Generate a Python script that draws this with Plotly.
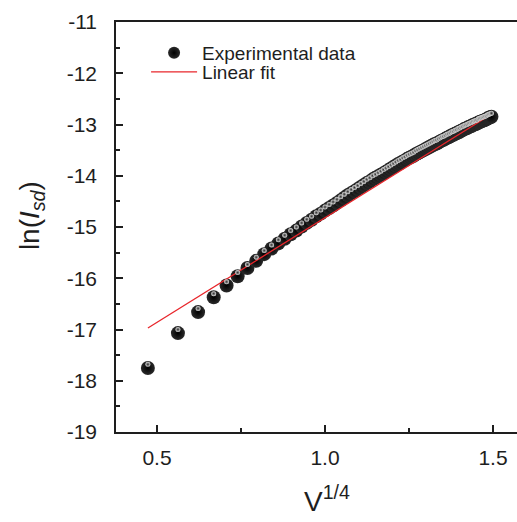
import plotly.graph_objects as go

# Applied voltage V (V); the x axis is V^(1/4)
V = [0.05, 0.10, 0.15, 0.20, 0.25, 0.30, 0.35, 0.40, 0.45, 0.50,
     0.55, 0.60, 0.65, 0.70, 0.75, 0.80, 0.85, 0.90, 0.95, 1.00,
     1.05, 1.10, 1.15, 1.20, 1.25, 1.30, 1.35, 1.40, 1.45, 1.50,
     1.55, 1.60, 1.65, 1.70, 1.75, 1.80, 1.85, 1.90, 1.95, 2.00,
     2.05, 2.10, 2.15, 2.20, 2.25, 2.30, 2.35, 2.40, 2.45, 2.50,
     2.55, 2.60, 2.65, 2.70, 2.75, 2.80, 2.85, 2.90, 2.95, 3.00,
     3.05, 3.10, 3.15, 3.20, 3.25, 3.30, 3.35, 3.40, 3.45, 3.50,
     3.55, 3.60, 3.65, 3.70, 3.75, 3.80, 3.85, 3.90, 3.95, 4.00,
     4.05, 4.10, 4.15, 4.20, 4.25, 4.30, 4.35, 4.40, 4.45, 4.50,
     4.55, 4.60, 4.65, 4.70, 4.75, 4.80, 4.85, 4.90, 4.95, 5.00]

ln_Isd = [-17.75, -17.07, -16.66, -16.37, -16.14, -15.96, -15.80, -15.66, -15.53, -15.42,
          -15.32, -15.23, -15.14, -15.07, -14.99, -14.92, -14.86, -14.79, -14.74, -14.68,
          -14.63, -14.58, -14.53, -14.48, -14.43, -14.38, -14.34, -14.30, -14.26, -14.22,
          -14.18, -14.14, -14.11, -14.07, -14.04, -14.01, -13.98, -13.95, -13.92, -13.89,
          -13.86, -13.83, -13.80, -13.77, -13.75, -13.72, -13.70, -13.67, -13.65, -13.63,
          -13.61, -13.58, -13.56, -13.54, -13.52, -13.50, -13.48, -13.46, -13.44, -13.42,
          -13.40, -13.38, -13.37, -13.35, -13.33, -13.31, -13.30, -13.28, -13.26, -13.25,
          -13.23, -13.21, -13.20, -13.18, -13.17, -13.15, -13.14, -13.12, -13.11, -13.09,
          -13.08, -13.07, -13.05, -13.04, -13.03, -13.01, -13.00, -12.99, -12.98, -12.96,
          -12.95, -12.94, -12.93, -12.92, -12.91, -12.90, -12.88, -12.87, -12.86, -12.85]

fit_x = [0.473, 1.495]
fit_y = [-16.97, -12.80]

x_tickvals = [0.5, 1.0, 1.5]
x_ticktext = ["0.5", "1.0", "1.5"]
y_tickvals = [-19, -18, -17, -16, -15, -14, -13, -12, -11]
y_ticktext = ["-19", "-18", "-17", "-16", "-15", "-14", "-13", "-12", "-11"]

x_data = [v ** 0.25 for v in V]

FONT = "Arial, Liberation Sans, sans-serif"
INK = "#1e1e1e"
Y_RANGE = [-19, -11]
HL_SHIFT = 0.07  # highlight offset (sphere shading), in axis units

fig = go.Figure()
fig.add_trace(go.Scatter(
    x=x_data, y=ln_Isd, mode="markers", name="Experimental data",
    legend="legend",
    marker=dict(size=14, color="#2a2a2a",
                gradient=dict(type="radial", color="#000000"),
                line=dict(width=0)),
))
# specular highlight of the spheres, drawn on an overlaid, slightly shifted axis
fig.add_trace(go.Scatter(
    x=x_data, y=ln_Isd, mode="markers", yaxis="y2", showlegend=False,
    hoverinfo="skip",
    marker=dict(size=5, color="#dcdcdc",
                gradient=dict(type="radial", color="#2a2a2a"),
                line=dict(width=0)),
))
fig.add_trace(go.Scatter(
    x=fit_x, y=fit_y, mode="lines", name="Linear fit", legend="legend2",
    line=dict(color="#e8262b", width=1.3),
))

axis_common = dict(
    showgrid=False, zeroline=False, showline=True, linecolor=INK,
    linewidth=1.5, ticks="inside", tickcolor=INK, tickwidth=1.5,
    ticklen=7, tickfont=dict(family=FONT, size=21, color=INK),
)

fig.update_xaxes(
    range=[0.378, 1.5714], tickvals=x_tickvals, ticktext=x_ticktext,
    mirror=True, ticklabelstandoff=6,
    minor=dict(ticks="inside", dtick=0.25, tick0=0.5, ticklen=4,
               tickcolor=INK, tickwidth=1.5),
    **axis_common,
)
fig.update_yaxes(
    range=Y_RANGE, tickvals=y_tickvals, ticktext=y_ticktext,
    ticklabelstandoff=13,
    minor=dict(ticks="inside", dtick=0.5, tick0=-19, ticklen=4,
               tickcolor=INK, tickwidth=1.5),
    **axis_common,
)

legend_common = dict(
    xanchor="left", yanchor="middle", bgcolor="rgba(0,0,0,0)",
    font=dict(family=FONT, size=19, color=INK), itemwidth=46,
)

fig.update_layout(
    width=517, height=522,
    margin=dict(l=116, r=0, t=22, b=90),
    paper_bgcolor="white", plot_bgcolor="white",
    showlegend=True,
    yaxis2=dict(overlaying="y", range=[Y_RANGE[0] - HL_SHIFT, Y_RANGE[1] - HL_SHIFT],
                visible=False),
    legend=dict(x=0.075, y=0.9244, itemsizing="constant", **legend_common),
    legend2=dict(x=0.075, y=0.878, itemsizing="trace", **legend_common),
    annotations=[
        dict(text="V<sup>1/4</sup>", xref="paper", yref="paper",
             x=0.526, y=-0.163, xanchor="center", yanchor="middle",
             showarrow=False, font=dict(family=FONT, size=28, color=INK)),
        dict(text="ln(<i>I</i><sub><i>sd</i></sub>)", xref="paper", yref="paper",
             x=-0.212, y=0.529, xanchor="center", yanchor="middle", textangle=-90,
             showarrow=False, font=dict(family=FONT, size=28, color=INK)),
    ],
)

fig.write_html("out.html")
